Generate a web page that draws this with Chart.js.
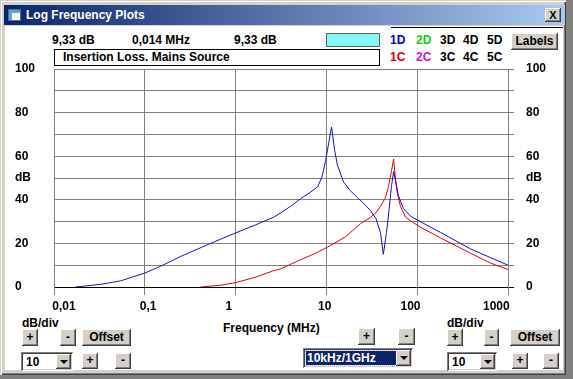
<!DOCTYPE html>
<html><head><meta charset="utf-8">
<script src="https://cdn.jsdelivr.net/npm/chart.js@4.4.1/dist/chart.umd.min.js"></script>
<style>
html,body{margin:0;padding:0;}
body{width:573px;height:379px;background:#808080;position:relative;overflow:hidden;font-family:'Liberation Sans',Arial,sans-serif;font-weight:bold;font-size:12px;}
#win{position:absolute;left:0;top:0;width:566px;height:375px;background:#d4d0c8;box-shadow:inset 1px 1px 0 #d4d0c8, inset 2px 2px 0 #fff, inset -1px -1px 0 #404040, inset -2px -2px 0 #808080;}
#title{position:absolute;left:4px;top:5px;width:561px;height:20px;background:linear-gradient(to right,#0a246a,#a6caf0);}
#title span{position:absolute;left:22px;top:3px;color:#fff;font-size:12px;line-height:14px;}
#icon{position:absolute;left:4px;top:4px;width:13px;height:12px;background:#fff;box-shadow:inset 0 0 0 1px #3a6ea5, inset 4px 4px 0 #6aa0d0;}
#close{position:absolute;left:545px;top:8px;width:16px;height:14px;background:#d4d0c8;box-shadow:inset -1px -1px 0 #404040, inset 1px 1px 0 #fff, inset -2px -2px 0 #808080;font-size:11px;line-height:14px;text-align:center;color:#000;}
#client{position:absolute;left:5px;top:26px;width:558px;height:344px;background:#fff;}
.t{position:absolute;line-height:14px;white-space:nowrap;}
.btn{position:absolute;background:#d4d0c8;box-shadow:inset -1px -1px 0 #404040, inset 1px 1px 0 #fff, inset -2px -2px 0 #808080;text-align:center;color:#000;}
.combo{position:absolute;background:#fff;box-shadow:inset 1px 1px 0 #808080, inset -1px -1px 0 #fff, inset 2px 2px 0 #404040, inset -2px -2px 0 #d4d0c8;}
.combo .arr{position:absolute;right:2px;top:2px;bottom:2px;width:15px;background:#d4d0c8;box-shadow:inset -1px -1px 0 #404040, inset 1px 1px 0 #fff, inset -2px -2px 0 #808080;}
.combo .arr:after{content:'';position:absolute;left:4px;top:6px;border-left:4px solid transparent;border-right:4px solid transparent;border-top:4px solid #000;}
.combo .v{position:absolute;left:5px;top:3px;line-height:14px;}
#chart{position:absolute;left:0;top:0;}
</style></head>
<body>
<div id="win">
  <div id="title"><div id="icon"></div><span>Log Frequency Plots</span></div>
  <div id="close">X</div>
  <div id="client"></div>
</div>
<div style="position:absolute;left:391px;top:27px;width:172px;height:1px;background:#000;"></div>
<div class="t" style="left:52px;top:33px;">9,33 dB</div>
<div class="t" style="left:132px;top:33px;">0,014 MHz</div>
<div class="t" style="left:234px;top:33px;">9,33 dB</div>
<div style="position:absolute;left:326px;top:33px;width:52px;height:12px;background:#80f8f8;border:1px solid #606060;"></div>
<div class="t" style="left:390px;top:33px;color:#0000d0;">1D</div>
<div class="t" style="left:416px;top:33px;color:#10d010;">2D</div>
<div class="t" style="left:440px;top:33px;">3D</div>
<div class="t" style="left:463px;top:33px;">4D</div>
<div class="t" style="left:487px;top:33px;">5D</div>
<div class="t" style="left:390px;top:50px;color:#e00000;">1C</div>
<div class="t" style="left:416px;top:50px;color:#d010d0;">2C</div>
<div class="t" style="left:440px;top:50px;">3C</div>
<div class="t" style="left:463px;top:50px;">4C</div>
<div class="t" style="left:487px;top:50px;">5C</div>
<div class="btn" style="left:511px;top:33px;width:47px;height:17px;line-height:17px;">Labels</div>
<div style="position:absolute;left:54px;top:49px;width:324px;height:15px;border:1px solid #000;background:#fff;"></div>
<div class="t" style="left:63px;top:50px;">Insertion Loss. Mains Source</div>

<div class="t" style="left:22px;top:316px;">dB/div</div>
<div class="btn" style="left:22px;top:329px;width:16px;height:17px;line-height:16px;">+</div>
<div class="btn" style="left:60px;top:329px;width:16px;height:17px;line-height:16px;">-</div>
<div class="btn" style="left:82px;top:329px;width:49px;height:17px;line-height:17px;">Offset</div>
<div class="combo" style="left:21px;top:352px;width:52px;height:19px;"><div class="v">10</div><div class="arr"></div></div>
<div class="btn" style="left:82px;top:353px;width:16px;height:16px;line-height:15px;">+</div>
<div class="btn" style="left:115px;top:353px;width:16px;height:16px;line-height:15px;">-</div>
<div class="t" style="left:223px;top:321px;">Frequency (MHz)</div>
<div class="btn" style="left:358px;top:328px;width:17px;height:17px;line-height:16px;">+</div>
<div class="btn" style="left:398px;top:328px;width:17px;height:17px;line-height:16px;">-</div>
<div class="combo" style="left:303px;top:348px;width:110px;height:20px;"><div style="position:absolute;left:3px;top:3px;width:90px;height:14px;background:#0a246a;outline:1px dotted #c0c0c0;"></div><div class="v" style="color:#fff;left:4px;">10kHz/1GHz</div><div class="arr"></div></div>
<div class="t" style="left:447px;top:316px;">dB/div</div>
<div class="btn" style="left:447px;top:329px;width:16px;height:17px;line-height:16px;">+</div>
<div class="btn" style="left:484px;top:329px;width:15px;height:17px;line-height:16px;">-</div>
<div class="btn" style="left:510px;top:329px;width:50px;height:17px;line-height:17px;">Offset</div>
<div class="combo" style="left:447px;top:352px;width:50px;height:19px;"><div class="v">10</div><div class="arr"></div></div>
<div class="btn" style="left:512px;top:353px;width:16px;height:16px;line-height:15px;">+</div>
<div class="btn" style="left:543px;top:353px;width:16px;height:16px;line-height:15px;">-</div>

<canvas id="chart" width="573" height="379"></canvas>
<script>
// ---- data (frequency in MHz, level in dB) ----
const freq1D = [0.0173,0.0326,0.054,0.1,0.149,0.248,0.53,1,1.66,2.62,3.13,4.03,5.2,6.7,8.0,8.85,9.3,9.8,10.6,11.4,12.3,13.2,15.5,18.5,22,27,30.6,35,39.4,42.4,45.9,48.3,52,55,57.5,62,70.5,84.4,108,181,386,640,1000];
const db1D   = [0,1.2,2.8,6.4,9.5,14,20,24.8,28.5,32,34,37,40.5,43.5,46,50,53.5,58,66,73.4,63,56,48,44,41,37.5,35,31.5,25,15,25,33,46,53,49,42,36,32.5,30,25,17.5,13.5,10];
const freq1C = [0.41,0.68,1,1.66,2.62,3.13,5.2,7.6,10.3,16.2,23.7,30.6,35,39.4,44.6,48.3,52,55,57.5,60.4,65.4,74.5,91,108,181,386,640,1000];
const db1C   = [0,0.8,2,4.5,7.5,8.3,12.5,15.5,18.3,23,29,32,34,37,41,46,53,58.7,50,43,37,32,29.5,27.5,22.5,15.5,11,8];
const xTickValues = [0.01,0.1,1,10,100,1000];
const xTickLabels = ['0,01','0,1','1','10','100','1000'];
const yTickLabel = v => (v % 20 === 0 ? String(v) : (v === 50 ? 'dB' : ''));

// label nudges (in spaces) to mimic the original placement
const xLabelNudge = [6,2,-4,-1,-4,-7];
function nudge(s, n){ return n >= 0 ? ' '.repeat(n) + s : s + ' '.repeat(-n); }

Chart.defaults.font = {family:"'Liberation Sans', Arial, sans-serif", size:12, weight:'bold'};
Chart.defaults.color = '#000';

const gridCol = ctx => (ctx.tick && ctx.tick.value === 0 ? '#000000' : '#808080');

new Chart(document.getElementById('chart'), {
  type: 'line',
  data: {
    datasets: [
      {label:'1D', data: freq1D.map((f,i)=>({x:f,y:db1D[i]})), borderColor:'#1414b4', borderWidth:1, pointRadius:0, tension:0, yAxisID:'y'},
      {label:'1C', data: freq1C.map((f,i)=>({x:f,y:db1C[i]})), borderColor:'#e00000', borderWidth:1, pointRadius:0, tension:0, yAxisID:'y'}
    ]
  },
  options: {
    responsive:false, animation:false, devicePixelRatio:1,
    layout:{padding:{left:15,top:69,right:25,bottom:0}},
    plugins:{legend:{display:false}, tooltip:{enabled:false}},
    scales:{
      x:{
        type:'logarithmic', min:0.01, max:1000, position:'bottom',
        afterBuildTicks: s => { s.ticks = xTickValues.map(v=>({value:v})); },
        afterFit: s => { s.height = 92; },
        ticks:{autoSkip:false, maxRotation:0, padding:4,
          callback:(v,i)=> nudge(xTickLabels[i], xLabelNudge[i])},
        grid:{color:'#808080', lineWidth:1, tickLength:8, drawTicks:true},
        border:{display:false}
      },
      y:{
        position:'left', min:0, max:100,
        afterFit: s => { s.width = 39; },
        ticks:{stepSize:10, crossAlign:'far', padding:0, callback: v => yTickLabel(v)},
        grid:{color:gridCol, lineWidth:1, drawTicks:false},
        border:{display:true, color:'#808080'}
      },
      y2:{
        position:'right', min:0, max:100,
        afterFit: s => { s.width = 40; },
        ticks:{stepSize:10, crossAlign:'near', padding:12, callback: v => yTickLabel(v)},
        grid:{color:gridCol, lineWidth:1, drawOnChartArea:false, drawTicks:true, tickLength:6},
        border:{display:true, color:'#808080'}
      }
    }
  }
});
</script>
</body></html>
